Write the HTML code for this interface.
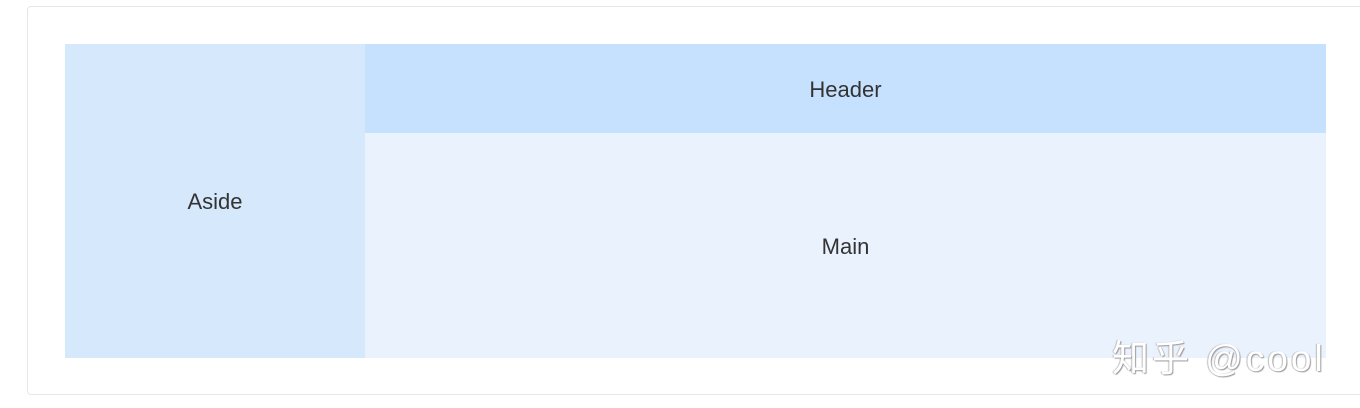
<!DOCTYPE html>
<html><head><style>
body{margin:0;width:1360px;height:408px;background:#fff;position:relative;overflow:hidden;font-family:"Liberation Sans",sans-serif;}
.card{position:absolute;left:27px;top:6px;width:1345px;height:389px;border:1px solid #e4e7ed;border-radius:4px;box-sizing:border-box;}
.b{position:absolute;display:flex;align-items:center;justify-content:center;color:#333;font-size:22px;padding-top:2px;box-sizing:border-box;}
.wm{position:absolute;left:1112px;top:328px;font-size:37px;letter-spacing:3px;color:#fff;font-family:"Liberation Sans","Noto Sans CJK SC",sans-serif;text-shadow:1px 1px 1px #999,-1px 0 1px #bbb;white-space:nowrap;}
</style></head><body>
<div class="card"></div>
<div class="b" style="left:65px;top:44px;width:300px;height:314px;background:#d6e8fc;">Aside</div>
<div class="b" style="left:365px;top:44px;width:961px;height:89px;background:#c6e1fd;">Header</div>
<div class="b" style="left:365px;top:133px;width:961px;height:225px;background:#eaf2fe;">Main</div>
<div class="wm">知乎 @cool</div>
</body></html>
